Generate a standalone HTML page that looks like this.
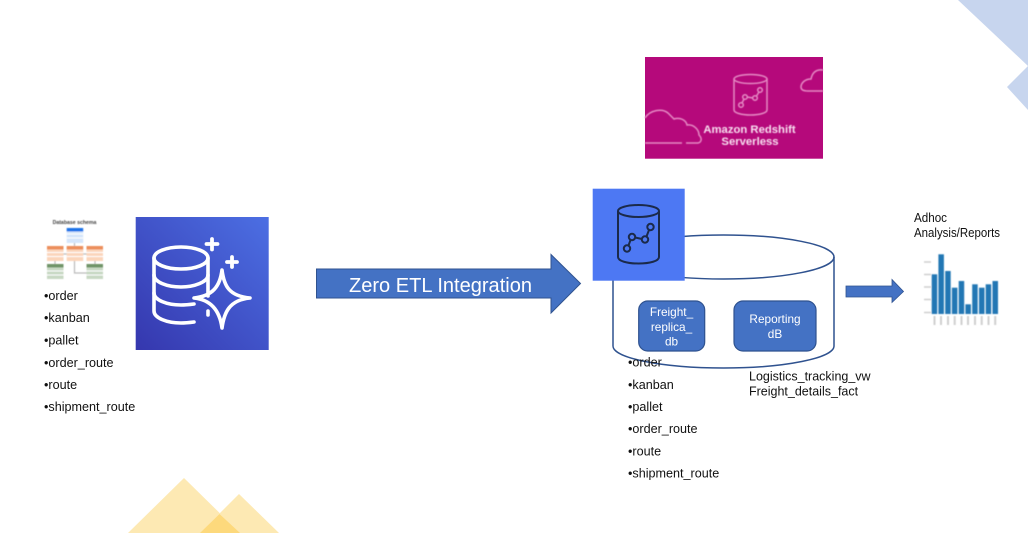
<!DOCTYPE html>
<html><head><meta charset="utf-8"><style>
html,body{margin:0;padding:0;background:#fff;width:1028px;height:538px;overflow:hidden}
svg{display:block}
text{font-family:"Liberation Sans",sans-serif}
</style></head><body>
<svg width="1028" height="538" viewBox="0 0 1028 538" xmlns="http://www.w3.org/2000/svg">
<defs>
<linearGradient id="g1" x1="0" y1="1" x2="1" y2="0"><stop offset="0" stop-color="#3537ae"/><stop offset="1" stop-color="#4c6fe3"/></linearGradient>
<filter id="b" x="-5%" y="-5%" width="110%" height="110%"><feGaussianBlur stdDeviation="0.4"/></filter>
<filter id="b2" x="-5%" y="-5%" width="110%" height="110%"><feGaussianBlur stdDeviation="0.6"/></filter>
</defs>

<!-- corners -->
<polygon points="958,0 1028,0 1028,110 1007,87 1028,66" fill="#c7d5ee"/>
<polygon points="128,533 184,478 240,533" fill="#fde9b3"/>
<polygon points="200,533 239,494 279,533" fill="#fde9b3"/>
<polygon points="200,533 219.500,514 240,533" fill="#fdd97c"/>

<!-- schema thumbnail -->
<g filter="url(#b2)">
<text x="74.500" y="224" font-size="5.200" font-weight="bold" text-anchor="middle" fill="#444">Database schema</text>
<rect x="66.700" y="228" width="16.500" height="15" fill="#d5e6fb"/><rect x="66.700" y="228" width="16.500" height="3.500" fill="#1a73e8"/>
<g fill="#fbd5bb">
<rect x="47" y="246" width="16.500" height="15"/><rect x="66.700" y="246" width="16.500" height="15"/><rect x="86.500" y="246" width="16.500" height="15"/>
</g>
<g fill="#ec8f5c">
<rect x="47" y="246" width="16.500" height="3.500"/><rect x="66.700" y="246" width="16.500" height="3.500"/><rect x="86.500" y="246" width="16.500" height="3.500"/>
</g>
<rect x="47" y="264" width="16.500" height="15" fill="#c8d8c3"/><rect x="86.500" y="264" width="16.500" height="15" fill="#c8d8c3"/>
<rect x="47" y="264" width="16.500" height="3.500" fill="#6f9468"/><rect x="86.500" y="264" width="16.500" height="3.500" fill="#6f9468"/>
<path d="M47 252.500H63.500M66.700 252.500H83.200M86.500 252.500H103M47 256.500H63.500M66.700 256.500H83.200M86.500 256.500H103M47 271H63.500M86.500 271H103M47 275H63.500M86.500 275H103M66.700 234H83.200M66.700 238H83.200" stroke="#fff" stroke-width="0.900"/>
<path d="M74.500 243V246M55 261V264M95 261V264M63.500 254H66.700M83.200 254H86.500M74.500 261V273H86.500" stroke="#bbb" stroke-width="1.200" fill="none"/>
</g>

<!-- aurora icon -->
<rect x="135.700" y="217" width="133" height="133" fill="url(#g1)"/>
<g fill="none" stroke="#fff" stroke-width="3.600" stroke-linejoin="round" stroke-linecap="round">
<ellipse cx="181" cy="258" rx="27" ry="11"/>
<path d="M154 258V311C154 318 167 323 181 323C186 323 190 322.500 194 322M208 258V296M208 311V315"/>
<path d="M154 275C154 282 167 287 181 287C194 287 208 282 208 275"/>
<path d="M154 293C154 300 167 305 181 305C186 305 190 304.500 194 304"/>
<path d="M222 270C224 286 229 296 250 298C229 300 224 313 222 328C220 313 213 300 194 298C213 296 220 286 222 270Z"/>
<path d="M212 239V249.500M206.500 244H217.500M232 257V267M227 262H237" stroke-width="3.800"/>
</g>

<!-- left list -->
<g font-size="12.600" fill="#111">
<text x="44" y="300">•order</text>
<text x="44" y="322">•kanban</text>
<text x="44" y="344.500">•pallet</text>
<text x="44" y="367">•order_route</text>
<text x="44" y="389">•route</text>
<text x="44" y="411">•shipment_route</text>
</g>

<!-- big arrow -->
<polygon points="316.500,269 551,269 551,254.500 580.500,283.500 551,313 551,298 316.500,298" fill="#4472c4" stroke="#2f528f" stroke-width="1"/>
<text x="349" y="292" font-size="20" fill="#fff" textLength="183" lengthAdjust="spacingAndGlyphs">Zero ETL Integration</text>

<!-- redshift banner -->
<rect x="645" y="57" width="178" height="101.700" fill="#b5097b"/>
<g fill="none" stroke="#e58ac4" stroke-width="1.500" filter="url(#b)">
<ellipse cx="750.500" cy="79" rx="16.500" ry="4.500"/>
<path d="M734 79V110C734 113 742 115 750.500 115C759 115 767 113 767 110V79"/>
<circle cx="741" cy="105" r="2.300"/><circle cx="745" cy="97" r="2.300"/><circle cx="755" cy="98" r="2.300"/><circle cx="760" cy="90" r="2.300"/>
<path d="M742 103L744 99M747 97L753 98M756.500 96L759 92"/>
<path d="M645 118C650 110 662 108 668 113C671 116 673 118 674 119C680 117 686 120 687 125C694 124 699 130 699 135C702 138 702 142 698 143H686M682 143H645"/>
<path d="M823 70C815 69 812 74 811 79C805 79 801 83 801 87C801 90 804 91 808 91H823"/>
</g>
<g font-size="11.300" font-weight="bold" fill="#f8dff0" text-anchor="middle" filter="url(#b)">
<text x="749.500" y="133">Amazon Redshift</text>
<text x="750" y="145">Serverless</text>
</g>

<!-- cylinder -->
<ellipse cx="723.500" cy="257" rx="110.500" ry="22" fill="#fff" stroke="#2f528f" stroke-width="1.500"/>
<path d="M613 257V346C613 358 662 368 723.500 368C785 368 834 358 834 346V257" fill="none" stroke="#2f528f" stroke-width="1.500"/>
<rect x="638.700" y="301" width="66" height="50" rx="9" fill="#4472c4" stroke="#2f528f" stroke-width="1.200"/>
<rect x="734" y="301" width="82" height="50" rx="9" fill="#4472c4" stroke="#2f528f" stroke-width="1.200"/>
<g font-size="11.800" fill="#fff" text-anchor="middle">
<text x="671.500" y="316">Freight_</text>
<text x="671.500" y="331">replica_</text>
<text x="671.500" y="345.500">db</text>
<text x="775" y="323">Reporting</text>
<text x="775" y="338">dB</text>
</g>

<!-- redshift square -->
<rect x="592.700" y="188.700" width="92" height="92" fill="#4d78f3"/>
<g fill="none" stroke="#1b2a4a" stroke-width="2">
<ellipse cx="638.500" cy="211" rx="20.500" ry="6"/>
<path d="M618 211V257C618 261 627 263.500 638.500 263.500C650 263.500 659 261 659 257V211"/>
<circle cx="627" cy="248.500" r="3.200"/><circle cx="632" cy="237" r="3.200"/><circle cx="645" cy="239.500" r="3.200"/><circle cx="650.500" cy="227" r="3.200"/>
<path d="M628.500 245.500L630.500 240M635 237.500L642 239M646.500 236.500L649 230"/>
</g>

<!-- right list -->
<g font-size="12.600" fill="#111">
<text x="628" y="366.500">•order</text>
<text x="628" y="389">•kanban</text>
<text x="628" y="411">•pallet</text>
<text x="628" y="433">•order_route</text>
<text x="628" y="455.500">•route</text>
<text x="628" y="477.500">•shipment_route</text>
</g>
<g font-size="12.500" fill="#111">
<text x="749" y="380.500">Logistics_tracking_vw</text>
<text x="749" y="395.500">Freight_details_fact</text>
</g>

<!-- small arrow -->
<polygon points="846,286 892,286 892,279.500 903.500,291.500 892,302.500 892,297 846,297" fill="#4472c4" stroke="#2f528f" stroke-width="0.800"/>

<!-- adhoc -->
<g font-size="12.800" fill="#111">
<text x="914" y="222" textLength="33" lengthAdjust="spacingAndGlyphs">Adhoc</text>
<text x="914" y="237" textLength="86" lengthAdjust="spacingAndGlyphs">Analysis/Reports</text>
</g>

<!-- chart -->
<g filter="url(#b)">
<path d="M924 262H931M924 274.500H931M924 287H931M924 299.500H931M924 312.500H931" stroke="#cfcfcf" stroke-width="1.500"/>
<g fill="#2077b4">
<rect x="931.700" y="274.300" width="5.500" height="39.700"/>
<rect x="938.400" y="254.300" width="5.500" height="59.700"/>
<rect x="945.200" y="271" width="5.500" height="43"/>
<rect x="951.900" y="287.700" width="5.500" height="26.300"/>
<rect x="958.700" y="281" width="5.500" height="33"/>
<rect x="965.400" y="304.300" width="5.500" height="9.700"/>
<rect x="972.200" y="284.300" width="5.500" height="29.700"/>
<rect x="979" y="287.700" width="5.500" height="26.300"/>
<rect x="985.700" y="284.300" width="5.500" height="29.700"/>
<rect x="992.500" y="281" width="5.500" height="33"/>
</g>
<path d="M934.500 316V325M941 316V325M948 316V325M954.700 316V325M961.500 316V325M968 316V325M975 316V325M981.700 316V325M988.500 316V325M995.200 316V325" stroke="#cfcfcf" stroke-width="2"/>
</g>
</svg>
</body></html>
